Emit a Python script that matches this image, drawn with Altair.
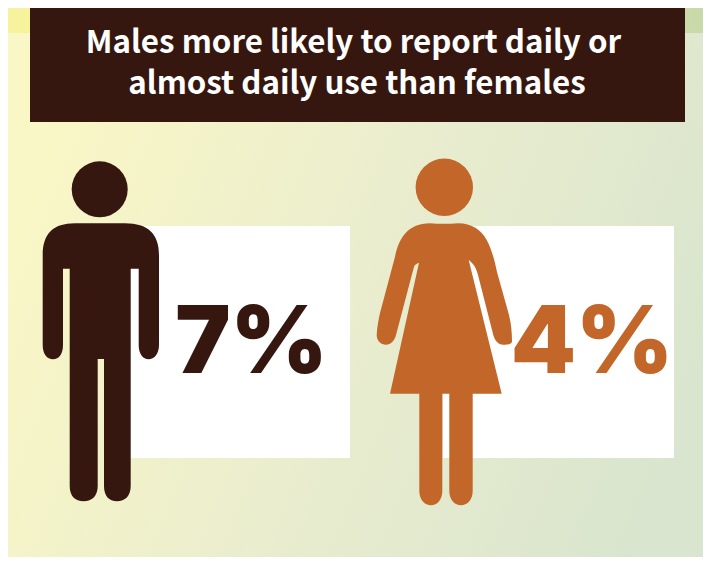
import re
import altair as alt
import pandas as pd

W, H = 695, 549          # the page keeps an 8 px margin all round
OFF = 8

title_lines = ["Males more likely to report daily or", "almost daily use than females"]
genders = ["Male", "Female"]
percents = [7, 4]
colors = ["#351710", "#C26729"]

MAN = ("M75 223.3 L125 223.3 C148 223.3 159 234 159 255 L159 345 C159 354 154 359.3 148.7 359.3 "
       "C143 359.3 138.7 354 138.7 345 L138.7 268.7 L130.7 268.7 L130.7 486 C130.7 496 125 501.3 117 501.3 "
       "C109 501.3 104 496 104 486 L104 359 L97.7 359 L97.7 486 C97.7 496 92 501.3 83.7 501.3 "
       "C75 501.3 69.7 496 69.7 486 L69.7 268.7 L63 268.7 L63 345 C63 354 59 359.3 53 359.3 "
       "C47 359.3 42.7 354 42.7 345 L42.7 255 C42.7 234 53 223.3 75 223.3 Z")
WOMAN = ("M430 223.3 C439 224 449 224 458 223.3 C472 223.3 481 230 486.7 240 C492 250 495 262 497 272 "
         "L509 315 C511 323 512 332 512 342 C510 345 507 344.7 503.3 344.7 C498 344.7 494.5 340 493.3 335 "
         "L478 275 C476.5 268 473 263 468.7 260 L501.7 393.7 L472.7 393.7 L472.7 491 C472.7 500 467 505.3 461 505.3 "
         "C455 505.3 449.3 500 449.3 491 L449.3 393.7 L442.3 393.7 L442.3 491 C442.3 500 437 505.3 431 505.3 "
         "C425 505.3 419.3 500 419.3 491 L419.3 393.7 L390 393.7 L419 262.7 C416.5 263.5 414.5 265 414 266.7 "
         "L396 335 C395 340 391 344.7 386 344.7 C381 344.7 376.7 341 376.7 335 C377 327 378.5 320 380 313 "
         "L395 256.7 C399 238 408 223.3 430 223.3 Z")


def shifted(path, cx, cy):
    """Move a page-coordinate silhouette so that it is centred on its anchor."""
    nums = iter(range(10 ** 6))

    def repl(m):
        i = next(nums)
        return f"{float(m.group()) - (cx if i % 2 == 0 else cy):.1f}"

    return re.sub(r"-?\d+\.?\d*", repl, path)


layout = {
    "Male": dict(anchor=(100, 360), head=(99.7, 189.3, 28), panel=(125, 350), text=(251.5, 373)),
    "Female": dict(anchor=(445, 360), head=(444.3, 187.3, 28.7), panel=(443, 674), text=(592, 373)),
}
paths = {"Male": MAN, "Female": WOMAN}

df = pd.DataFrame({"gender": genders, "pct": percents, "color": colors})
df["label"] = df["pct"].astype(str) + "%"


def v(p):
    return alt.value(p - OFF)


base = alt.Chart(df)
first = base.transform_filter("datum.gender == 'Male'")
layers = []

# backdrop
layers.append(
    first.mark_rect(
        color=alt.Gradient(gradient="linear", x1=0, y1=0.35, x2=1, y2=0.65,
                           stops=[alt.GradientStop(offset=0, color="#F7F29C"),
                                  alt.GradientStop(offset=0.5, color="#E4E8AE"),
                                  alt.GradientStop(offset=1, color="#BBD1A6")])
    ).encode(x=v(8), x2=v(703), y=v(8), y2=v(557))
)
layers.append(
    first.mark_rect(
        color=alt.Gradient(gradient="linear", x1=0, y1=0.35, x2=1, y2=0.65,
                           stops=[alt.GradientStop(offset=0, color="#FAF7C6"),
                                  alt.GradientStop(offset=0.5, color="#EAEDCE"),
                                  alt.GradientStop(offset=1, color="#D9E5CE")])
    ).encode(x=v(8), x2=v(703), y=v(33), y2=v(557))
)
# title banner
layers.append(
    first.mark_rect(color="#351710").encode(x=v(30), x2=v(685), y=v(8), y2=v(122))
)
for line, xpos, ypos in zip(title_lines, [353.5, 357], [53, 94]):
    layers.append(
        alt.Chart(pd.DataFrame({"line": [line]})).mark_text(
            font="Noto Sans CJK SC", fontWeight=700, fontSize=31.3, color="white",
            align="center", baseline="alphabetic"
        ).encode(text="line:N", x=v(xpos), y=v(ypos))
    )

# panels, figures, numbers
for g in genders:
    L = layout[g]
    sub = base.transform_filter(alt.datum.gender == g)
    layers.append(
        sub.mark_rect(color="white").encode(x=v(L["panel"][0]), x2=v(L["panel"][1]), y=v(226), y2=v(458))
    )
    color_enc = alt.Color("color:N", scale=None, legend=None)
    hx, hy, hr = L["head"]
    layers.append(
        sub.mark_point(shape="circle", filled=True, opacity=1, size=(2 * hr) ** 2, strokeWidth=0)
        .encode(x=v(hx), y=v(hy), color=color_enc)
    )
    ax, ay = L["anchor"]
    layers.append(
        sub.mark_point(shape=shifted(paths[g], ax, ay), filled=True, opacity=1, size=4, strokeWidth=0)
        .encode(x=v(ax), y=v(ay), color=color_enc)
    )
    tx, ty = L["text"]
    layers.append(
        sub.mark_text(font="Inter", fontWeight=900, fontSize=93, align="center", baseline="alphabetic")
        .encode(text="label:N", x=v(tx), y=v(ty), color=color_enc)
    )

chart = alt.layer(*layers).properties(
    width=W, height=H, padding=0, autosize=alt.AutoSizeParams(type="none")
).configure_view(stroke=None)

chart.save("out.html", embed_options={"renderer": "svg", "actions": False})
